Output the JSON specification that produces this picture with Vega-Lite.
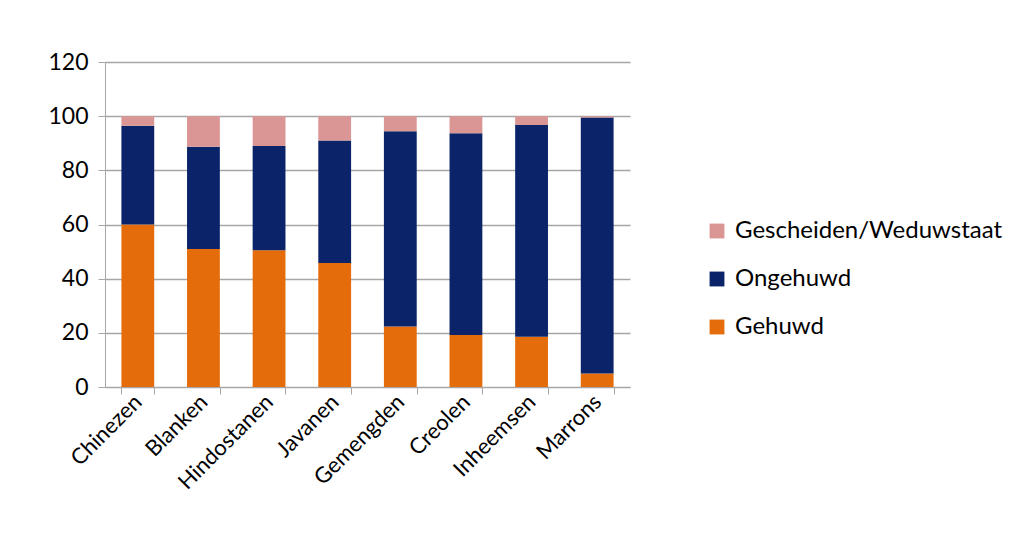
{
  "$schema": "https://vega.github.io/schema/vega-lite/v6.json",
  "width": 525,
  "height": 325,
  "autosize": {"type": "none"},
  "padding": {"left": 105, "top": 62, "right": 388, "bottom": 156},
  "background": "white",
  "config": {
    "view": {"stroke": null},
    "font": "Lato",
    "axis": {"labelFont": "Lato", "labelColor": "#000000", "domainColor": "#A6A6A6", "tickColor": "#A6A6A6", "gridColor": "#A6A6A6"}
  },
  "data": {
    "values": [
      {"groep": "Chinezen", "status": "Gehuwd", "pct": 60.0, "o": 1},
      {"groep": "Chinezen", "status": "Ongehuwd", "pct": 36.5, "o": 2},
      {"groep": "Chinezen", "status": "Gescheiden/Weduwstaat", "pct": 3.5, "o": 3},
      {"groep": "Blanken", "status": "Gehuwd", "pct": 51.0, "o": 1},
      {"groep": "Blanken", "status": "Ongehuwd", "pct": 37.7, "o": 2},
      {"groep": "Blanken", "status": "Gescheiden/Weduwstaat", "pct": 11.3, "o": 3},
      {"groep": "Hindostanen", "status": "Gehuwd", "pct": 50.5, "o": 1},
      {"groep": "Hindostanen", "status": "Ongehuwd", "pct": 38.5, "o": 2},
      {"groep": "Hindostanen", "status": "Gescheiden/Weduwstaat", "pct": 11.0, "o": 3},
      {"groep": "Javanen", "status": "Gehuwd", "pct": 45.8, "o": 1},
      {"groep": "Javanen", "status": "Ongehuwd", "pct": 45.2, "o": 2},
      {"groep": "Javanen", "status": "Gescheiden/Weduwstaat", "pct": 9.0, "o": 3},
      {"groep": "Gemengden", "status": "Gehuwd", "pct": 22.3, "o": 1},
      {"groep": "Gemengden", "status": "Ongehuwd", "pct": 72.1, "o": 2},
      {"groep": "Gemengden", "status": "Gescheiden/Weduwstaat", "pct": 5.6, "o": 3},
      {"groep": "Creolen", "status": "Gehuwd", "pct": 19.2, "o": 1},
      {"groep": "Creolen", "status": "Ongehuwd", "pct": 74.5, "o": 2},
      {"groep": "Creolen", "status": "Gescheiden/Weduwstaat", "pct": 6.3, "o": 3},
      {"groep": "Inheemsen", "status": "Gehuwd", "pct": 18.6, "o": 1},
      {"groep": "Inheemsen", "status": "Ongehuwd", "pct": 78.1, "o": 2},
      {"groep": "Inheemsen", "status": "Gescheiden/Weduwstaat", "pct": 3.3, "o": 3},
      {"groep": "Marrons", "status": "Gehuwd", "pct": 5.0, "o": 1},
      {"groep": "Marrons", "status": "Ongehuwd", "pct": 94.5, "o": 2},
      {"groep": "Marrons", "status": "Gescheiden/Weduwstaat", "pct": 0.5, "o": 3}
    ]
  },
  "mark": {"type": "bar"},
  "encoding": {
    "x": {
      "field": "groep",
      "type": "nominal",
      "sort": null,
      "title": null,
      "scale": {"paddingInner": 0.5, "paddingOuter": 0.25},
      "axis": {"labelAngle": -45, "labelFontSize": 22, "labelAlign": "right", "labelBaseline": "middle", "tickBand": "extent", "tickSize": 7, "labelPadding": 4, "domainWidth": 1}
    },
    "y": {
      "field": "pct",
      "type": "quantitative",
      "stack": "zero",
      "title": null,
      "scale": {"domain": [0, 120]},
      "axis": {"values": [0, 20, 40, 60, 80, 100, 120], "labelFontSize": 23, "tickSize": 7, "labelPadding": 10, "grid": true, "gridWidth": 1.5}
    },
    "color": {
      "field": "status",
      "type": "nominal",
      "scale": {
        "domain": ["Gescheiden/Weduwstaat", "Ongehuwd", "Gehuwd"],
        "range": ["#DA9694", "#0B2369", "#E46C0A"]
      },
      "legend": {
        "title": null,
        "orient": "none",
        "legendX": 600,
        "legendY": 157,
        "symbolType": "square",
        "symbolSize": 220,
        "symbolStrokeWidth": 0,
        "labelFontSize": 24,
        "labelColor": "#000000",
        "labelLimit": 400,
        "rowPadding": 24,
        "labelOffset": 6
      }
    },
    "order": {"field": "o", "type": "quantitative"}
  }
}
